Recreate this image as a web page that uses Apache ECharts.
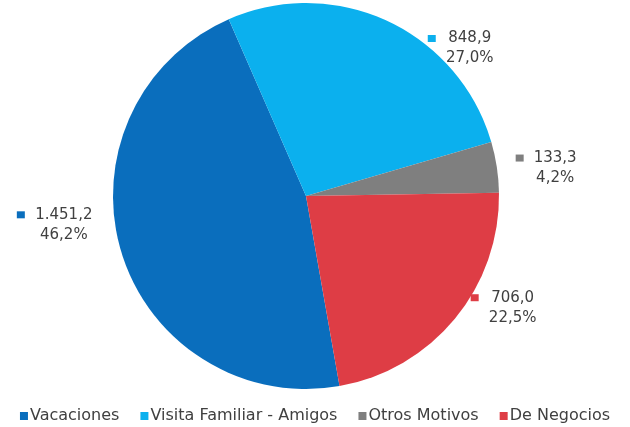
<!DOCTYPE html>
<html>
<head>
<meta charset="utf-8">
<script src="https://cdn.jsdelivr.net/npm/echarts@6/dist/echarts.min.js"></script>
<style>
  html, body { margin: 0; padding: 0; background: #fff; }
  #chart { width: 630px; height: 427px; }
</style>
</head>
<body>
<div id="chart"></div>
<script>
var categories = ["Vacaciones", "Visita Familiar - Amigos", "Otros Motivos", "De Negocios"];
var values = [1451.2, 848.9, 133.3, 706.0];
var percents = ["46,2%", "27,0%", "4,2%", "22,5%"];
var colors = ["#0A6EBD", "#0BB0EE", "#7F7F7F", "#DE3D45"];
// nudges for the outside labels (Excel places them a bit differently)
var labelOffsets = [[-6, -31], [25, 40], [-4, 3], [-4, -20]];

var labelFont = "15px 'DejaVu Sans'";
var ctx = document.createElement("canvas").getContext("2d");
ctx.font = labelFont;
function textW(s) { return Math.ceil(ctx.measureText(s).width); }

function fmtNum(v) {
  var parts = v.toFixed(1).split(".");
  parts[0] = parts[0].replace(/\B(?=(\d{3})+(?!\d))/g, ".");
  return parts.join(",");
}

var chart = echarts.init(document.getElementById("chart"));

var seriesData = categories.map(function (name, i) {
  var w = Math.max(textW(fmtNum(values[i])), textW(percents[i]));
  return {
    name: name,
    value: values[i],
    itemStyle: { color: colors[i] },
    label: {
      offset: labelOffsets[i],
      rich: {
        sq: { backgroundColor: colors[i], width: 8, height: 7 },
        v: { width: w, align: "center", fontFamily: "DejaVu Sans", fontSize: 15, color: "#404040" },
        p: { width: w, align: "center", fontFamily: "DejaVu Sans", fontSize: 15, color: "#404040" }
      }
    }
  };
});

var option = {
  animation: false,
  legend: {
    bottom: -2,
    left: "center",
    icon: "rect",
    itemWidth: 8,
    itemHeight: 8,
    itemGap: 21,
    textStyle: { fontFamily: "DejaVu Sans", fontSize: 16, color: "#404040", padding: [0, 0, 0, -3] },
    data: categories
  },
  series: [
    {
      type: "pie",
      center: [306, 196],
      radius: 193,
      startAngle: -80,
      clockwise: true,
      data: seriesData,
      label: {
        show: true,
        position: "outside",
        fontFamily: "DejaVu Sans",
        fontSize: 15,
        color: "#404040",
        lineHeight: 20,
        formatter: function (p) {
          var i = p.dataIndex;
          return "{sq|}{gap|}{v|" + fmtNum(values[i]) + "}\n{pad|}{p|" + percents[i] + "}";
        },
        rich: {
          gap: { width: 10 },
          pad: { width: 18 }
        }
      },
      labelLine: { show: false, length: 14, length2: 4 }
    }
  ]
};

chart.setOption(option);
</script>
</body>
</html>
